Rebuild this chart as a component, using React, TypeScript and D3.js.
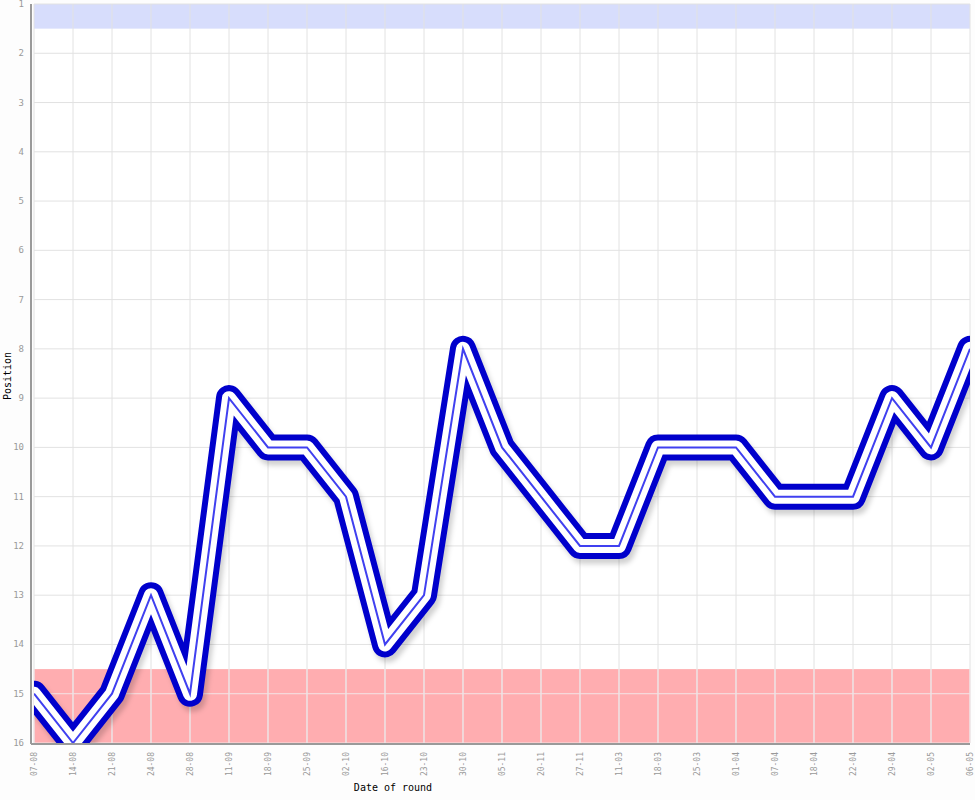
import React from "react";
import * as d3 from "d3";

const dates = ["07-08","14-08","21-08","24-08","28-08","11-09","18-09","25-09","02-10","16-10","23-10","30-10","05-11","20-11","27-11","11-03","18-03","25-03","01-04","07-04","18-04","22-04","29-04","02-05","06-05"];
const positions = [15,16,15,13,15,9,10,10,11,14,13,8,10,11,12,12,10,10,10,11,11,11,9,10,8];
const yTicks = [1,2,3,4,5,6,7,8,9,10,11,12,13,14,15,16];
const topBand = [1, 1.5];
const bottomBand = [14.5, 16];

const W = 975, H = 800;
const left = 34, right = 970, top = 4, bottom = 743;

export default function App() {
  const x = d3.scalePoint<string>().domain(dates).range([left, right]);
  const y = d3.scaleLinear().domain([1, 16]).range([top, bottom]);
  const line = d3.line<number>().x((_, i) => x(dates[i]) as number).y(d => y(d));
  const path = line(positions) || "";
  const mono = "'DejaVu Sans Mono', monospace";
  return (
    <svg width={W} height={H} style={{ position: "absolute", left: 0, top: 0, background: "#fdfdfd" }}>
      <defs>
        <clipPath id="plot"><rect x={left} y={top} width={right - left} height={bottom - top} /></clipPath>
        <filter id="shadow" x="-10%" y="-10%" width="120%" height="120%">
          <feGaussianBlur stdDeviation="2.5" />
        </filter>
      </defs>
      <rect x={left} y={top} width={right - left} height={bottom - top} fill="#ffffff" />
      <rect x={left} y={y(topBand[0])} width={right - left} height={y(topBand[1]) - y(topBand[0])} fill="#d7ddfc" />
      <rect x={left} y={y(bottomBand[0])} width={right - left} height={y(bottomBand[1]) - y(bottomBand[0])} fill="#ffadb0" />
      {yTicks.map(t => (
        <line key={"h" + t} x1={left} x2={right} y1={y(t)} y2={y(t)} stroke={t >= bottomBand[0] ? "#f4e4e6" : "#e2e2e2"} strokeWidth={1} />
      ))}
      {dates.map(d => (
        <line key={"v" + d} x1={x(d)} x2={x(d)} y1={top} y2={bottom} stroke="#e2e2e2" strokeWidth={1} />
      ))}
      {dates.map(d => (
        <line key={"vr" + d} x1={x(d)} x2={x(d)} y1={y(bottomBand[0])} y2={bottom} stroke="#f2e6e8" strokeWidth={1} />
      ))}
      <g clipPath="url(#plot)">
        <path d={path} transform="translate(3,5)" fill="none" stroke="#000" strokeOpacity={0.18} strokeWidth={26} strokeLinejoin="round" strokeLinecap="round" filter="url(#shadow)" />
        <path d={path} fill="none" stroke="#0000cc" strokeWidth={26} strokeLinejoin="round" strokeLinecap="round" />
        <path d={path} fill="none" stroke="#ffffff" strokeWidth={14} strokeLinejoin="round" strokeLinecap="round" />
        <path d={path} fill="none" stroke="#4040f0" strokeWidth={2} strokeLinejoin="miter" />
      </g>
      <line x1={31} x2={31} y1={top} y2={bottom + 1} stroke="#9a9a9a" strokeWidth={2} />
      <line x1={31} x2={right} y1={bottom + 1} y2={bottom + 1} stroke="#9a9a9a" strokeWidth={2} />
      {yTicks.map(t => (
        <text key={"yl" + t} x={24} y={y(t) + 3} textAnchor="end" fontFamily={mono} fontSize={9} fill="#999">{t}</text>
      ))}
      {dates.map(d => (
        <text key={"xl" + d} transform={`translate(${(x(d) as number) + 3},752) rotate(-90)`} textAnchor="end" fontFamily={mono} fontSize={8} fill="#999">{d}</text>
      ))}
      <text x={393} y={791} textAnchor="middle" fontFamily={mono} fontSize={10} fill="#000">Date of round</text>
      <text transform="translate(11,376) rotate(-90)" textAnchor="middle" fontFamily={mono} fontSize={10} fill="#000">Position</text>
    </svg>
  );
}
